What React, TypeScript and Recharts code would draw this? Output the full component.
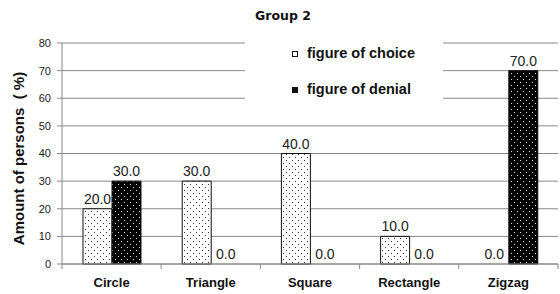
import { BarChart, Bar, XAxis, YAxis, CartesianGrid, LabelList, Label, Rectangle } from 'recharts'

const categories = ['Circle', 'Triangle', 'Square', 'Rectangle', 'Zigzag']
const choiceValues = [20, 30, 40, 10, 0]
const denialValues = [30, 0, 0, 0, 70]
const yTicks = [0, 10, 20, 30, 40, 50, 60, 70, 80]

const data = categories.map((name, i) => ({
  name,
  choice: choiceValues[i],
  denial: denialValues[i],
}))

const FONT = '"Liberation Sans", Arial, sans-serif'

const XTick = (props: any) => {
  const { x, y, payload, index } = props
  const band = 496 / categories.length
  const right = x + band / 2
  return (
    <g>
      {index === 0 && <line x1={x - band / 2} y1={y - 8} x2={x - band / 2} y2={y - 3} stroke="#888" />}
      <line x1={right} y1={y - 8} x2={right} y2={y - 3} stroke="#888" />
      <text x={x} y={y + 15} textAnchor="middle" fontFamily={FONT} fontSize={13} fontWeight="bold" fill="#111">
        {payload.value}
      </text>
    </g>
  )
}

// zero-height bars draw nothing but still get their label
const BarShape = (props: any) => {
  if (!props.height) return <g />
  return <Rectangle {...props} />
}

const LegendBox = () => (
  <div
    style={{
      position: 'absolute', left: 245, top: 35, width: 198, height: 78, background: '#fff',
      fontFamily: FONT, fontSize: 14.5, fontWeight: 'bold', color: '#111', lineHeight: '17px',
    }}
  >
    <div style={{ display: 'flex', alignItems: 'center', paddingTop: 10, paddingLeft: 47 }}>
      <span style={{ display: 'inline-block', width: 4, height: 4, border: '1px solid #111', background: '#fff', marginRight: 9 }} />
      figure of choice
    </div>
    <div style={{ display: 'flex', alignItems: 'center', paddingTop: 19, paddingLeft: 47 }}>
      <span style={{ display: 'inline-block', width: 4, height: 4, border: '1px solid #111', background: '#111', marginRight: 9 }} />
      figure of denial
    </div>
  </div>
)

const fmt = (v: any) => Number(v).toFixed(1)

export default function App() {
  return (
    <div style={{ position: 'fixed', left: 0, top: 0, width: 560, height: 294, background: '#fff' }}>
      <div style={{ position: 'absolute', left: 0, top: 8, width: 566, textAlign: 'center', fontFamily: '"DejaVu Sans", sans-serif', fontSize: 12.5, fontWeight: 'bold', color: '#111' }}>
        Group 2
      </div>
      <BarChart
        width={560}
        height={294}
        data={data}
        margin={{ top: 43, right: 2, left: 30, bottom: 0 }}
        barCategoryGap={21}
        barGap={0}
      >
        <defs>
          <pattern id="dotsLight" width="6" height="6" patternUnits="userSpaceOnUse">
            <rect width="6" height="6" fill="#fff" />
            <rect x="1" y="1" width="1" height="1" fill="#333" />
            <rect x="4" y="4" width="1" height="1" fill="#333" />
          </pattern>
          <pattern id="dotsDark" width="6" height="6" patternUnits="userSpaceOnUse">
            <rect width="6" height="6" fill="#000" />
            <rect x="1" y="1" width="1" height="1" fill="#ddd" />
            <rect x="4" y="4" width="1" height="1" fill="#ddd" />
          </pattern>
        </defs>
        <CartesianGrid vertical={false} stroke="#888" />
        <XAxis dataKey="name" height={30} axisLine={{ stroke: '#888' }} tickLine={false} tick={<XTick />} interval={0} />
        <YAxis
          width={32}
          domain={[0, 80]}
          ticks={yTicks}
          axisLine={{ stroke: '#888' }}
          tickLine={{ stroke: '#888' }}
          tickSize={5}
          tickMargin={6}
          tick={{ fontFamily: FONT, fontSize: 11, fill: '#222' }}
        >
          <Label
            value={'Amount of persons\u00a0 (\u00a0%)'}
            angle={-90}
            position="insideLeft"
            offset={-11}
            dy={5}
            style={{ fontFamily: FONT, fontSize: 15, fontWeight: 'bold', fill: '#111', textAnchor: 'middle' }}
          />
        </YAxis>
        <Bar dataKey="choice" fill="url(#dotsLight)" stroke="#111" strokeWidth={1} shape={<BarShape />} isAnimationActive={false}>
          <LabelList dataKey="choice" position="top" formatter={fmt} style={{ fontFamily: FONT, fontSize: 14, fill: '#222' }} />
        </Bar>
        <Bar dataKey="denial" fill="url(#dotsDark)" stroke="#111" strokeWidth={1} shape={<BarShape />} isAnimationActive={false}>
          <LabelList dataKey="denial" position="top" formatter={fmt} style={{ fontFamily: FONT, fontSize: 14, fill: '#222' }} />
        </Bar>
      </BarChart>
      <LegendBox />
    </div>
  )
}
